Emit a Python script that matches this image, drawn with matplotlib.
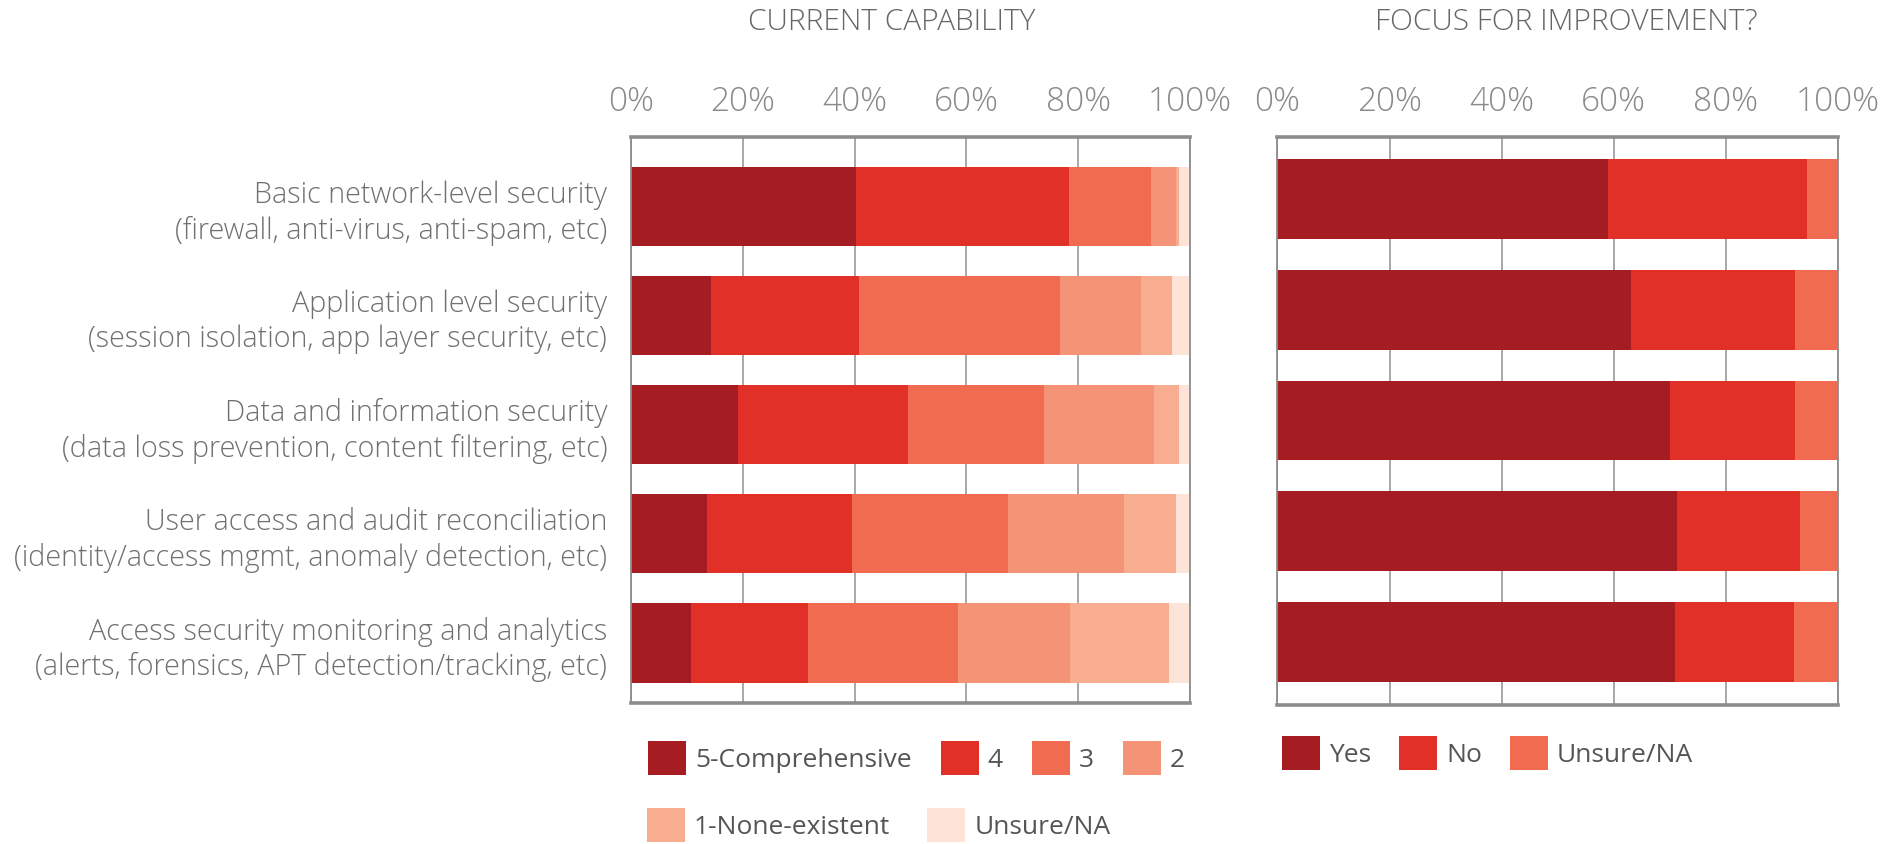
import numpy as np
import matplotlib.pyplot as plt
from matplotlib.patches import Patch

plt.rcParams['font.family'] = ['Open Sans', 'DejaVu Sans']

categories = [
    "Basic network-level security\n(firewall, anti-virus, anti-spam, etc)",
    "Application level security\n(session isolation, app layer security, etc)",
    "Data and information security\n(data loss prevention, content filtering, etc)",
    "User access and audit reconciliation\n(identity/access mgmt, anomaly detection, etc)",
    "Access security monitoring and analytics\n(alerts, forensics, APT detection/tracking, etc)",
]

# current capability, % of respondents per rating
cap_labels = ['5-Comprehensive', '4', '3', '2', '1-None-existent', 'Unsure/NA']
cap_5 = [40.3, 14.3, 19.2, 13.7, 10.7]
cap_4 = [38.1, 26.5, 30.3, 25.8, 21.0]
cap_3 = [14.7, 36.0, 24.3, 28.0, 26.8]
cap_2 = [4.4, 14.5, 19.7, 20.6, 20.0]
cap_1 = [0.5, 5.5, 4.6, 9.3, 17.7]
cap_na = [2.0, 3.2, 1.9, 2.6, 3.8]

# focus for improvement, % of respondents
focus_labels = ['Yes', 'No', 'Unsure/NA']
focus_yes = [58.9, 63.1, 70.1, 71.3, 71.0]
focus_no = [35.6, 29.3, 22.3, 22.0, 21.2]
focus_na = [5.5, 7.6, 7.6, 6.7, 7.8]

ticks = [0, 20, 40, 60, 80, 100]
tick_labels = ['0%', '20%', '40%', '60%', '80%', '100%']

COLORS = ['#A51D22', '#E03027', '#F06B4F', '#F59376', '#F8AD90', '#FDE3D8']
FRAME = '#8c8c8c'
GRID = '#9a9a9a'


def stacked(ax, series, colors, height):
    y = np.arange(len(series[0]))
    left = np.zeros(len(y))
    handles = []
    for vals, c in zip(series, colors):
        vals = np.asarray(vals, dtype=float)
        ax.barh(y, vals, left=left, height=height, color=c, linewidth=0, zorder=2)
        left += vals
        handles.append(Patch(facecolor=c, edgecolor='none'))
    return handles


def style(ax):
    ax.set_xlim(0, 100)
    ax.set_xticks(ticks)
    ax.set_xticklabels(tick_labels)
    ax.xaxis.tick_top()
    ax.tick_params(axis='x', length=0, pad=13, labelsize=24, labelcolor='#8a8a8a')
    for lab in ax.get_xticklabels():
        lab.set_fontweight('light')
    ax.grid(axis='x', color=GRID, linewidth=1.2, zorder=0)
    ax.set_axisbelow(True)
    for side in ['left', 'right']:
        ax.spines[side].set_color(FRAME)
        ax.spines[side].set_linewidth(1.3)
    for side in ['top', 'bottom']:
        ax.spines[side].set_color(FRAME)
        ax.spines[side].set_linewidth(2.6)


fig = plt.figure(figsize=(18.83, 8.44), dpi=100)

ax1 = fig.add_axes([0.335, 0.167, 0.297, 0.671])
cap_handles = stacked(ax1, [cap_5, cap_4, cap_3, cap_2, cap_1, cap_na], COLORS, 0.725)
style(ax1)
ax1.set_ylim(4.55, -0.64)
ax1.set_yticks(np.arange(len(categories)))
ax1.set_yticklabels(categories, fontsize=20.7, color='#707070', linespacing=1.25,
                    fontweight='light')
ax1.tick_params(axis='y', length=0, pad=17)

ax2 = fig.add_axes([0.6784, 0.1647, 0.2977, 0.673])
focus_handles = stacked(ax2, [focus_yes, focus_no, focus_na], COLORS[:3], 0.72)
style(ax2)
ax2.set_ylim(4.57, -0.56)
ax2.set_yticks([])

fig.text(891.5 / 1883, 1 - 22 / 844, 'CURRENT CAPABILITY', ha='center', va='center',
         fontsize=21.5, color='#666666', fontweight='light')
fig.text(1566.5 / 1883, 1 - 22 / 844, 'FOCUS FOR IMPROVEMENT?', ha='center', va='center',
         fontsize=21.5, color='#666666', fontweight='light')

leg_kw = dict(frameon=False, fontsize=19, labelcolor='#555555', borderpad=0,
              borderaxespad=0, handlelength=1.44, handleheight=1.6,
              handletextpad=0.34, loc='center left')

leg_a = fig.legend(cap_handles[:4], cap_labels[:4], ncol=4, columnspacing=1.1,
                   bbox_to_anchor=(648 / 1883, 1 - 758 / 844), **leg_kw)
leg_b = fig.legend(cap_handles[4:], cap_labels[4:], ncol=2, columnspacing=1.4,
                   bbox_to_anchor=(647 / 1883, 1 - 825 / 844), **leg_kw)
leg_c = fig.legend(focus_handles, focus_labels, ncol=3, columnspacing=1.06,
                   bbox_to_anchor=(1282 / 1883, 1 - 753 / 844), **leg_kw)

fig.savefig('out.png', dpi=100, facecolor='white')
